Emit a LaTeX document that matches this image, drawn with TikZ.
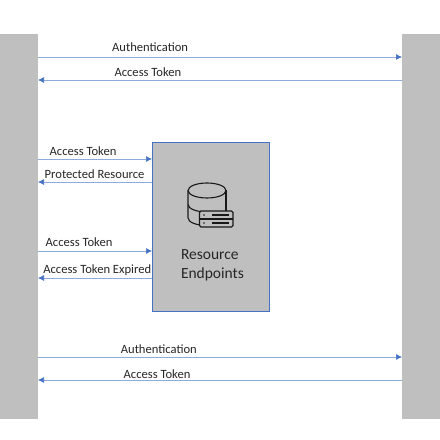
\documentclass[tikz,border=0pt]{standalone}
\usepackage{fontspec}
\setmainfont{Carlito}
\usepackage{tikz}
\usetikzlibrary{arrows.meta,positioning}
\definecolor{barfill}{HTML}{BFBFBF}
\definecolor{linkblue}{HTML}{4472C4}
\definecolor{inkgray}{HTML}{262626}

\begin{document}
\begin{tikzpicture}[
  x=1pt, y=1pt,
  font=\fontsize{12.6}{15}\selectfont,
  bar/.style={fill=barfill, minimum width=38pt, minimum height=385pt, inner sep=0pt, outer sep=0pt},
  endpoint/.style={draw=linkblue, fill=barfill, line width=1pt, minimum width=117pt, minimum height=169pt, inner sep=0pt, outer sep=0pt},
  lbl/.style={text=inkgray, inner sep=0pt, anchor=center},
  arr/.style={-{Latex[length=6pt,width=6pt,color=linkblue]}, line width=0.7pt, draw=linkblue!60},
  ico/.style={draw=black!90, line width=1.1pt}
]
\useasboundingbox (0,0) rectangle (440,440);
\node[bar] (client) at (19,213.5) {};
\node[bar] (server) at (421,213.5) {};
\node[endpoint] (resource) at (210.5,212.8) {};
% resource text
\node[lbl, font=\fontsize{15.5}{19}\selectfont, align=left] (restext) at (212.5,174.5) {Resource\\Endpoints};
% icon: database
\draw[ico] (188,249.5) arc[start angle=180, end angle=-180, x radius=19, y radius=7.5];
\draw[ico] (188,249.5) -- (188,222) arc[start angle=180, end angle=270, x radius=19, y radius=7.5] -- ++(4,0);
\draw[ico] (226,249.5) -- (226,229);
\draw[ico] (188,235.5) arc[start angle=180, end angle=270, x radius=19, y radius=7.5] -- ++(4,0);
% icon: server
\draw[ico, rounded corners=1.5pt, fill=barfill] (199.5,213) rectangle (233,229);
\draw[ico] (199.5,221) -- (233,221);
\draw[ico] (212,225) -- (229,225) (212,217) -- (229,217);
\fill[black!90] (204,225) circle (0.9) (204,217) circle (0.9);
% anchors on the client bar
\coordinate (c1) at (client.east |- 0,383);
\coordinate (c2) at (client.east |- 0,360);
\coordinate (c3) at (client.east |- 0,281);
\coordinate (c4) at (client.east |- 0,258);
\coordinate (c5) at (client.east |- 0,189);
\coordinate (c6) at (client.east |- 0,162);
\coordinate (c7) at (client.east |- 0,83);
\coordinate (c8) at (client.east |- 0,60);
% arrows
\draw[arr] (c1) -- (server.west |- c1) node[lbl, pos=0.308, yshift=10pt] (l1) {Authentication};
\draw[arr] (server.west |- c2) -- (c2) node[lbl, pos=0.698, yshift=8pt] (l2) {Access Token};
\draw[arr] (c3) -- (resource.west |- c3) node[lbl, pos=0.395, yshift=8pt] (l3) {Access Token};
\draw[arr] (resource.west |- c4) -- (c4) node[lbl, pos=0.504, yshift=8pt] (l4) {Protected Resource};
\draw[arr] (c5) -- (resource.west |- c5) node[lbl, pos=0.36, yshift=9pt] (l5) {Access Token};
\draw[arr] (resource.west |- c6) -- (c6) node[lbl, pos=0.48, yshift=8pt] (l6) {Access Token Expired};
\draw[arr] (c7) -- (server.west |- c7) node[lbl, pos=0.332, yshift=8pt] (l7) {Authentication};
\draw[arr] (server.west |- c8) -- (c8) node[lbl, pos=0.673, yshift=6pt] (l8) {Access Token};
\end{tikzpicture}
\end{document}
